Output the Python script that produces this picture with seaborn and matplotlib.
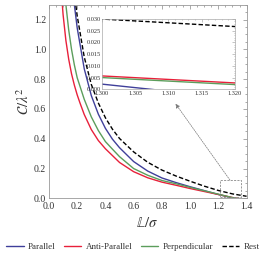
import numpy as np
import pandas as pd
import seaborn as sns
import matplotlib
matplotlib.use("Agg")
import matplotlib.pyplot as plt
from matplotlib.patches import Rectangle
from matplotlib.ticker import MultipleLocator

# values
L_parallel = [0.17, 0.18, 0.20, 0.25, 0.30, 0.35, 0.40, 0.45, 0.50, 0.60, 0.70, 0.80, 0.90,
              1.00, 1.10, 1.20, 1.30, 1.305, 1.31, 1.32, 1.35, 1.40]
C_parallel = [1.39, 1.30, 1.145, 0.87, 0.69, 0.565, 0.47, 0.397, 0.34, 0.247, 0.183, 0.137, 0.106,
              0.078, 0.052, 0.026, 0.0022, 0.0007, -0.0008, -0.0023, -0.007, -0.015]

L_anti = [0.09, 0.10, 0.12, 0.14, 0.16, 0.18, 0.20, 0.22, 0.25, 0.30, 0.35, 0.40, 0.50, 0.60,
          0.70, 0.80, 0.90, 1.00, 1.10, 1.20, 1.30, 1.31, 1.32, 1.35, 1.40]
C_anti = [1.36, 1.235, 1.06, 0.934, 0.836, 0.76, 0.695, 0.64, 0.563, 0.462, 0.388, 0.333, 0.241, 0.179,
          0.138, 0.109, 0.088, 0.066, 0.046, 0.026, 0.0057, 0.0042, 0.0027, -0.002, -0.010]

L_perp = [0.11, 0.12, 0.14, 0.16, 0.18, 0.20, 0.25, 0.30, 0.35, 0.40, 0.45, 0.50, 0.60, 0.70,
          0.80, 0.90, 1.00, 1.10, 1.20, 1.30, 1.31, 1.32, 1.35, 1.40]
C_perp = [1.41, 1.30, 1.13, 1.00, 0.896, 0.81, 0.665, 0.547, 0.455, 0.381, 0.33, 0.28, 0.20, 0.155,
          0.12, 0.098, 0.074, 0.051, 0.028, 0.005, 0.0035, 0.002, -0.0025, -0.011]

L_rest = [0.18, 0.19, 0.20, 0.25, 0.30, 0.35, 0.40, 0.45, 0.50, 0.60, 0.70, 0.80, 0.90, 1.00,
          1.10, 1.20, 1.30, 1.31, 1.32, 1.35, 1.40]
C_rest = [1.38, 1.30, 1.226, 0.949, 0.765, 0.64, 0.541, 0.464, 0.402, 0.312, 0.242, 0.19, 0.15, 0.115,
          0.082, 0.053, 0.030, 0.0284, 0.0268, 0.022, 0.014]

series_names = ["Parallel", "Anti-Parallel", "Perpendicular", "Rest"]
series_colors = ["#3f3f9a", "#e8203a", "#5c9e5c", "black"]

frames = []
for name, xs, ys in zip(series_names,
                        [L_parallel, L_anti, L_perp, L_rest],
                        [C_parallel, C_anti, C_perp, C_rest]):
    frames.append(pd.DataFrame({"L": xs, "C": ys, "series": name}))
df = pd.concat(frames, ignore_index=True)

palette = dict(zip(series_names, series_colors))
dashes = {"Parallel": "", "Anti-Parallel": "", "Perpendicular": "", "Rest": (3.2, 1.6)}

sns.set_style("white")
plt.rcParams["font.family"] = ["Liberation Serif", "DejaVu Serif"]
plt.rcParams["mathtext.fontset"] = "stix"

fig = plt.figure(figsize=(2.66, 2.61), dpi=100)
ax = fig.add_axes([0.184, 0.240, 0.743, 0.742])

sns.lineplot(data=df, x="L", y="C", hue="series", style="series", palette=palette,
             dashes=dashes, linewidth=1.0, ax=ax, sort=True)

ax.set_xlim(0, 1.4)
ax.set_ylim(0, 1.3)
ax.xaxis.set_major_locator(MultipleLocator(0.2))
ax.xaxis.set_minor_locator(MultipleLocator(0.05))
ax.yaxis.set_major_locator(MultipleLocator(0.2))
ax.yaxis.set_minor_locator(MultipleLocator(0.05))
ax.tick_params(which="both", direction="in", top=True, right=True, colors="#888888",
               labelcolor="#333333", labelsize=7, width=0.5)
ax.tick_params(axis="x", pad=2.6)
ax.tick_params(axis="y", pad=2)
ax.tick_params(which="major", length=3)
ax.tick_params(which="minor", length=1.5)
for s in ax.spines.values():
    s.set_color("#999999")
    s.set_linewidth(0.6)
ax.set_xlabel(r"$\mathbb{L}/\sigma$", fontsize=10.5, color="#333333", labelpad=3.5)
ax.set_ylabel(r"$\mathcal{C}/\lambda^2$", fontsize=10.5, color="#333333", labelpad=1.5)

handles, labels = ax.get_legend_handles_labels()
ax.get_legend().remove()
fig.legend(handles, labels, loc="center", bbox_to_anchor=(0.5, 0.055), ncol=4, frameon=False,
           fontsize=6.5, handlelength=1.9, handletextpad=0.5, columnspacing=0.95,
           labelcolor="#333333", borderaxespad=0, borderpad=0)

# zoom box and arrow
ax.add_patch(Rectangle((1.21, 0.011), 0.148, 0.112, fill=False, ec="#888888",
                       lw=0.6, ls=(0, (2.5, 1.5)), zorder=5))
ax.annotate("", xy=(0.897, 0.635), xytext=(1.282, 0.123),
            arrowprops=dict(arrowstyle="-|>", color="#777777", lw=0.5, ls=(0, (2, 1.5)),
                            mutation_scale=6, shrinkA=0, shrinkB=0))

# inset
axi = fig.add_axes([0.383, 0.658, 0.500, 0.269])
sns.lineplot(data=df, x="L", y="C", hue="series", style="series", palette=palette,
             dashes=dashes, linewidth=1.0, ax=axi, sort=True, legend=False)
axi.set_xlim(1.300, 1.320)
axi.set_ylim(0, 0.030)
axi.set_xticks([1.300, 1.305, 1.310, 1.315, 1.320])
axi.set_yticks([0.000, 0.005, 0.010, 0.015, 0.020, 0.025, 0.030])
axi.set_xticklabels(["1.300", "1.305", "1.310", "1.315", "1.320"])
axi.set_yticklabels(["0.000", "0.005", "0.010", "0.015", "0.020", "0.025", "0.030"])
axi.xaxis.set_minor_locator(MultipleLocator(0.001))
axi.yaxis.set_minor_locator(MultipleLocator(0.001))
axi.tick_params(which="both", direction="in", top=True, right=True, colors="#999999",
                labelcolor="#333333", labelsize=4.6, width=0.4)
axi.tick_params(axis="x", pad=1.5)
axi.tick_params(axis="y", pad=1)
axi.tick_params(which="major", length=2)
axi.tick_params(which="minor", length=1)
for s in axi.spines.values():
    s.set_color("#aaaaaa")
    s.set_linewidth(0.5)
axi.set_xlabel("")
axi.set_ylabel("")

fig.savefig("out.png", dpi=100)
